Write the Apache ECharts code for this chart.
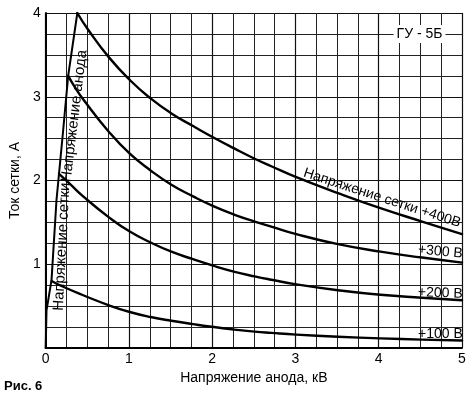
<!DOCTYPE html>
<html><head><meta charset="utf-8">
<script src="https://cdn.jsdelivr.net/npm/echarts@6/dist/echarts.min.js"></script>
<style>html,body{margin:0;padding:0;background:#fff}#c{width:473px;height:394px}</style>
</head><body><div id="c"></div>
<script>
// ---- data (kV, A) ----
const xTickLabels = ['0','1','2','3','4','5'];
const yTickLabels = ['1','2','3','4'];
const envelope = [[0,0],[0.01,0.45],[0.07,0.81],[0.13,1.77],[0.16,2.08],[0.21,2.6],[0.27,3.25],[0.38,4.0]];
const grid400 = [[0.38,4.0],[0.51,3.80],[0.76,3.47],[1.01,3.20],[1.26,2.98],[1.51,2.80],[1.77,2.65],[2.02,2.51],[2.27,2.38],[2.51,2.26],[2.71,2.17],[3.01,2.04],[3.51,1.85],[4.02,1.67],[4.52,1.51],[5.0,1.36]];
const grid300 = [[0.27,3.25],[0.36,3.10],[0.45,2.97],[0.76,2.58],[1.01,2.32],[1.26,2.12],[1.51,1.95],[1.77,1.81],[2.02,1.69],[2.27,1.59],[2.51,1.51],[2.71,1.45],[3.01,1.36],[3.51,1.24],[4.02,1.15],[4.52,1.08],[5.0,1.02]];
const grid200 = [[0.16,2.08],[0.3,1.95],[0.45,1.81],[0.76,1.56],[1.01,1.39],[1.26,1.26],[1.51,1.15],[1.77,1.06],[2.02,0.98],[2.27,0.91],[2.51,0.855],[2.71,0.815],[3.01,0.76],[3.51,0.69],[4.02,0.635],[4.52,0.60],[5.0,0.57]];
const grid100 = [[0.07,0.80],[0.19,0.74],[0.45,0.63],[0.76,0.51],[1.01,0.43],[1.26,0.37],[1.51,0.325],[1.77,0.285],[2.02,0.25],[2.27,0.22],[2.51,0.195],[2.71,0.18],[3.01,0.16],[3.51,0.135],[4.02,0.115],[4.52,0.10],[5.0,0.09]];

const FONT = '"Liberation Sans", Arial, sans-serif';
const notes = [
  {text:'Напряжение сетки +400В', at:[4.04,1.79], rot:-18, size:14},
  {text:'+300 В', at:[4.74,1.15], rot:-5, size:14},
  {text:'+200 В', at:[4.74,0.655], rot:-2, size:14},
  {text:'+100 В', at:[4.74,0.17], rot:0, size:14},
  {text:'Напряжение сетки', at:[0.196,1.21], rot:87, size:15},
  {text:'Напряжение анода', at:[0.345,2.77], rot:83, size:15}
];

const chart = echarts.init(document.getElementById('c'), null, {renderer:'canvas'});
const lineSeries = (d, w, s) => ({type:'line', data:d, smooth:s, showSymbol:false, symbol:'none',
  lineStyle:{color:'#000', width:w, join:'round', cap:'round'}, z:5, silent:true, animation:false});

chart.setOption({
  animation:false,
  backgroundColor:'#fff',
  grid:{left:42, right:11, top:13, bottom:46, containLabel:false},
  xAxis:{type:'value', min:0, max:5, interval:1,
    name:'Напряжение анода, кВ', nameLocation:'middle', nameGap:17,
    nameTextStyle:{color:'#000', fontSize:14, fontFamily:FONT},
    axisLine:{show:true, lineStyle:{color:'#000', width:2}},
    axisTick:{show:false},
    axisLabel:{color:'#000', fontSize:14, fontFamily:FONT, margin:4,
      formatter:v=>xTickLabels[Math.round(v)]},
    splitLine:{show:true, lineStyle:{color:'#111', width:1.2}},
    minorTick:{show:false, splitNumber:4},
    minorSplitLine:{show:true, lineStyle:{color:'#222', width:1}}
  },
  yAxis:{type:'value', min:0, max:4, interval:1,
    name:'Ток сетки, А', nameLocation:'middle', nameGap:13, nameRotate:90,
    nameTextStyle:{color:'#000', fontSize:14, fontFamily:FONT},
    axisLine:{show:true, lineStyle:{color:'#000', width:2}},
    axisTick:{show:false},
    axisLabel:{color:'#000', fontSize:14, fontFamily:FONT, margin:5,
      formatter:v=>v===0?'':yTickLabels[Math.round(v)-1]},
    splitLine:{show:true, lineStyle:{color:'#111', width:1.2}},
    minorTick:{show:false, splitNumber:4},
    minorSplitLine:{show:true, lineStyle:{color:'#222', width:1}}
  },
  series:[
    lineSeries(envelope, 2, false),
    lineSeries(grid400, 2.4, 0.5),
    lineSeries(grid300, 2.4, 0.5),
    lineSeries(grid200, 2.4, 0.5),
    lineSeries(grid100, 2.4, 0.5)
  ]
});

const graphics = notes.map(n => {
  const p = chart.convertToPixel({gridIndex:0}, n.at);
  return {type:'text', x:p[0], y:p[1], rotation:n.rot*Math.PI/180, z:10,
    style:{text:n.text, fill:'#000', font:n.size+'px '+FONT, align:'center', verticalAlign:'middle'}};
});
const gp = chart.convertToPixel({gridIndex:0}, [4.49, 3.75]);
graphics.push({type:'text', x:gp[0], y:gp[1], z:10,
  style:{text:'ГУ - 5Б', fill:'#000', font:'14px '+FONT, align:'center', verticalAlign:'middle',
    backgroundColor:'#fff', padding:[2,3]}});
graphics.push({type:'text', left:4, top:380, z:10,
  style:{text:'Рис. 6', fill:'#000', font:'bold 13px '+FONT}});
chart.setOption({graphic:graphics});
</script></body></html>
